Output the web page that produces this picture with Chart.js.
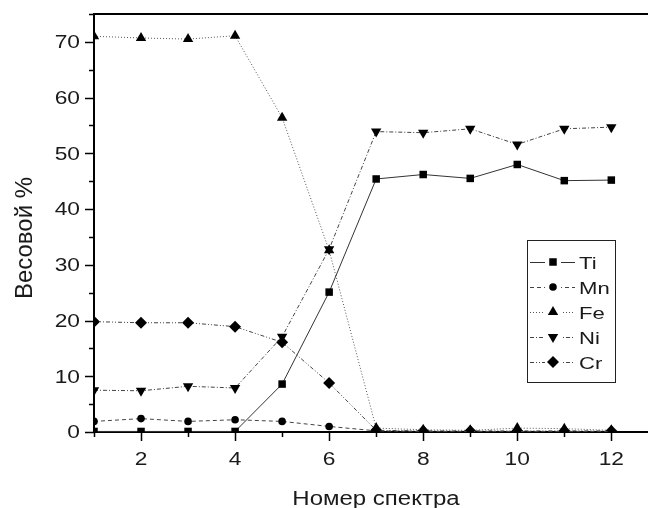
<!DOCTYPE html>
<html><head><meta charset="utf-8">
<script src="https://cdn.jsdelivr.net/npm/chart.js@4.4.1/dist/chart.umd.min.js"></script>
<style>html,body{margin:0;padding:0;background:#fff;overflow:hidden}#wrap{width:648px;height:508px}</style>
</head><body><div id="wrap"><canvas id="c" width="648" height="508"></canvas></div>
<script>
const spectra = [1,2,3,4,5,6,7,8,9,10,11,12];
const ti = [0.1,0.1,0.1,0.1,8.6,25.1,45.4,46.2,45.5,48.0,45.1,45.2];
const mn = [1.9,2.4,1.9,2.2,1.9,1.0,0.2,0.1,0.1,0.1,0.1,0.1];
const fe = [71.0,70.7,70.5,71.1,56.4,32.6,0.7,0.4,0.3,0.7,0.6,0.3];
const ni = [7.5,7.4,8.2,7.9,17.1,32.8,53.9,53.7,54.4,51.6,54.4,54.7];
const cr = [19.8,19.6,19.6,18.9,16.1,8.8,0.3,0.2,0.2,0.2,0.2,0.2];
const seriesNames = ['Ti','Mn','Fe','Ni','Cr'];
const yTickValues = [0,5,10,15,20,25,30,35,40,45,50,55,60,65,70,75];
const xLabelValues = [2,4,6,8,10,12];
const yLabelValues = [0,10,20,30,40,50,60,70];
const xTitle = 'Номер спектра';
const yTitle = 'Весовой %';

const FONT = '"Liberation Sans", Arial, sans-serif';
const TXT = '#1a1a1a';
const STRETCH = 1.3;

function pts(arr){ return spectra.map((x,i)=>({x:x, y:arr[i]})); }

const styles = [
  {pointStyle:'rect', pointRadius:5.3, borderDash:[], rotation:0, color:'#333'},
  {pointStyle:'circle', pointRadius:3.8, borderDash:[4,3], rotation:0, color:'#444'},
  {pointStyle:'triangle', pointRadius:6, borderDash:[1,2], rotation:0, color:'#555'},
  {pointStyle:'triangle', pointRadius:6, borderDash:[4,2,1,2], rotation:180, color:'#444'},
  {pointStyle:'rectRot', pointRadius:6, borderDash:[4,2,1,2,1,2], rotation:0, color:'#444'}
];
const seriesData = [ti, mn, fe, ni, cr];

const datasets = seriesNames.map((name,k)=>({
  label: name,
  data: pts(seriesData[k]),
  borderColor: styles[k].color,
  borderWidth: 1,
  borderDash: styles[k].borderDash,
  pointStyle: styles[k].pointStyle,
  pointRadius: styles[k].pointRadius,
  pointRotation: styles[k].rotation,
  pointBackgroundColor: '#000',
  pointBorderColor: '#000',
  pointBorderWidth: 0,
  tension: 0,
  fill: false
}));

function stretchedText(ctx, text, x, y, size, align, sx){
  ctx.save();
  ctx.font = size + 'px ' + FONT;
  ctx.textAlign = align;
  ctx.textBaseline = 'alphabetic';
  ctx.translate(x, y);
  ctx.scale(sx, 1);
  ctx.fillText(text, 0, 0);
  ctx.restore();
}

const decor = {
  id: 'decor',
  afterDraw(chart){
    const ctx = chart.ctx, a = chart.chartArea;
    const xs = chart.scales.x, ys = chart.scales.y;
    ctx.save();
    ctx.strokeStyle = '#000';
    ctx.lineWidth = 1.5;
    ctx.beginPath();
    spectra.forEach(v=>{
      const px = Math.round(xs.getPixelForValue(v))+0.5;
      const len = v%2===0 ? 9 : 5;
      ctx.moveTo(px, a.bottom); ctx.lineTo(px, a.bottom+len);
    });
    yTickValues.forEach(v=>{
      const py = Math.round(ys.getPixelForValue(v))+0.5;
      const len = v%10===0 ? 9 : 5;
      ctx.moveTo(a.left-len, py); ctx.lineTo(a.left, py);
    });
    ctx.stroke();
    ctx.lineWidth = 2;
    ctx.beginPath();
    ctx.moveTo(a.left-1, a.top); ctx.lineTo(a.right, a.top);
    ctx.stroke();

    ctx.fillStyle = TXT;
    xLabelValues.forEach(v=>{
      stretchedText(ctx, String(v), xs.getPixelForValue(v), 465, 17.5, 'center', STRETCH);
    });
    yLabelValues.forEach(v=>{
      stretchedText(ctx, String(v), 80, ys.getPixelForValue(v)+6.3, 17.5, 'right', STRETCH);
    });
    stretchedText(ctx, xTitle, 376, 505, 20, 'center', 1.2);
    ctx.save();
    ctx.font = '24px ' + FONT;
    ctx.textAlign = 'center';
    ctx.textBaseline = 'alphabetic';
    ctx.translate(32, 238);
    ctx.rotate(-Math.PI/2);
    ctx.fillText(yTitle, 0, 0);
    ctx.restore();
    ctx.restore();

    // legend
    ctx.save();
    ctx.fillStyle = '#fff';
    ctx.fillRect(527, 240, 88, 142);
    ctx.strokeStyle = '#222';
    ctx.lineWidth = 1;
    ctx.strokeRect(527.5, 240.5, 88, 142);
    const rows = [262, 287, 312, 337, 362];
    chart.data.datasets.forEach((ds,k)=>{
      const y = rows[k];
      ctx.strokeStyle = ds.borderColor;
      ctx.lineWidth = 1;
      ctx.setLineDash(ds.borderDash);
      ctx.beginPath();
      ctx.moveTo(530, y+0.5); ctx.lineTo(575, y+0.5);
      ctx.stroke();
      ctx.setLineDash([]);
      ctx.fillStyle = '#fff';
      ctx.fillRect(545, y-7, 16, 14);
      ctx.fillStyle = '#000';
      Chart.helpers.drawPoint(ctx, {pointStyle: ds.pointStyle, radius: ds.pointRadius, rotation: ds.pointRotation, borderWidth: 0}, 553, y);
      ctx.fillStyle = TXT;
      stretchedText(ctx, ds.label, 579, y+6.5, 17, 'left', STRETCH);
    });
    ctx.restore();
  }
};

new Chart(document.getElementById('c'), {
  type: 'line',
  data: { datasets },
  options: {
    responsive: false,
    animation: false,
    events: [],
    devicePixelRatio: 1,
    layout: { autoPadding: false, padding: { top: 14, right: 0, left: 0, bottom: 0 } },
    plugins: { legend: { display: false }, tooltip: { enabled: false } },
    scales: {
      x: {
        type: 'linear', min: 1, max: 12.78,
        afterBuildTicks(s){ s.ticks = spectra.map(v=>({value:v})); },
        afterFit(s){ s.height = 76; s.paddingLeft = 0; s.paddingRight = 0; },
        ticks: { display: false },
        grid: { display: false },
        border: { display: true, color: '#000', width: 2 }
      },
      y: {
        min: 0, max: 75,
        afterBuildTicks(s){ s.ticks = yTickValues.map(v=>({value:v})); },
        afterFit(s){ s.width = 94; s.paddingTop = 0; s.paddingBottom = 0; },
        ticks: { display: false },
        grid: { display: false },
        border: { display: true, color: '#000', width: 2 }
      }
    }
  },
  plugins: [decor]
});
</script></body></html>
